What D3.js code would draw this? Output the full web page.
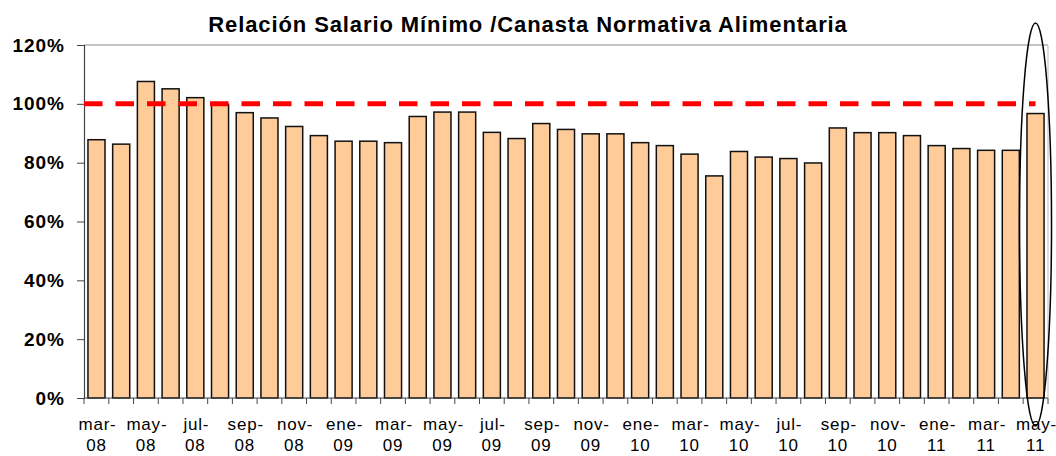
<!DOCTYPE html>
<html>
<head>
<meta charset="utf-8">
<script src="https://cdn.jsdelivr.net/npm/d3@7"></script>
<style>
  body { margin: 0; background: #fff; }
  text { font-family: Arial, "Liberation Sans", sans-serif; }
</style>
</head>
<body>
<div id="chart"></div>
<script>
// meses mar-08 .. may-11
var monthNames = ["mar","abr","may","jun","jul","ago","sep","oct","nov","dic",
                  "ene","feb","mar","abr","may","jun","jul","ago","sep","oct","nov","dic",
                  "ene","feb","mar","abr","may","jun","jul","ago","sep","oct","nov","dic",
                  "ene","feb","mar","abr","may"];
var years = ["08","08","08","08","08","08","08","08","08","08",
             "09","09","09","09","09","09","09","09","09","09","09","09",
             "10","10","10","10","10","10","10","10","10","10","10","10",
             "11","11","11","11","11"];
var ratio = [87.8, 86.3, 107.6, 105.1, 102.1, 99.8, 97.0, 95.2, 92.3, 89.2,
             87.3, 87.3, 86.8, 95.7, 97.2, 97.2, 90.3, 88.2, 93.3, 91.3, 89.8, 89.8,
             86.8, 85.8, 82.9, 75.5, 83.8, 81.9, 81.4, 79.9, 91.8, 90.2, 90.2, 89.2,
             85.8, 84.8, 84.2, 84.2, 96.7];
var yTicks = [0, 20, 40, 60, 80, 100, 120];
var refLine = 100;
var title = "Relación Salario Mínimo /Canasta Normativa Alimentaria";

var W = 1056, H = 456;
var margin = {top: 45, left: 84, right: 8, bottom: 58};
var width = W - margin.left - margin.right,
    height = H - margin.top - margin.bottom;

var cats = monthNames.map(function(m, i){ return i; });

var svg = d3.select("#chart").append("svg")
    .attr("width", W).attr("height", H);

svg.append("text")
    .attr("x", 528).attr("y", 32)
    .attr("text-anchor", "middle")
    .attr("font-size", 22).attr("font-weight", "bold")
    .attr("letter-spacing", 0.9)
    .text(title);

var g = svg.append("g").attr("transform", "translate(" + margin.left + "," + margin.top + ")");

var x = d3.scaleBand().domain(cats).range([0, width]).paddingInner(0.31).paddingOuter(0.16);
var y = d3.scaleLinear().domain([0, 120]).range([height, 0]);

// frame top / right
g.append("line").attr("x1", 0).attr("x2", width).attr("y1", 0).attr("y2", 0)
    .attr("stroke", "#888").attr("stroke-width", 1);
g.append("line").attr("x1", width).attr("x2", width).attr("y1", 0).attr("y2", height)
    .attr("stroke", "#bbb").attr("stroke-width", 1);

// bars
g.selectAll(".bar").data(ratio).enter().append("rect")
    .attr("class", "bar")
    .attr("x", function(d, i){ return x(i); })
    .attr("width", x.bandwidth())
    .attr("y", function(d){ return y(d); })
    .attr("height", function(d){ return height - y(d); })
    .attr("fill", "#FFCC99")
    .attr("stroke", "#111")
    .attr("stroke-width", 1.5);

// y axis
var yAxis = g.append("g").call(d3.axisLeft(y).tickValues(yTicks).tickSize(7).tickPadding(12)
    .tickFormat(function(d){ return d + "%"; }));
yAxis.select(".domain").attr("stroke", "#444").attr("stroke-width", 1.2);
yAxis.selectAll(".tick line").attr("stroke", "#444");
yAxis.selectAll("text").attr("font-size", 19).attr("font-weight", "bold")
    .attr("letter-spacing", 1)
    .attr("font-family", "Arial, 'Liberation Sans', sans-serif").attr("fill", "#000");

// x axis line and ticks at band boundaries
g.append("line").attr("x1", 0).attr("x2", width).attr("y1", height).attr("y2", height)
    .attr("stroke", "#444").attr("stroke-width", 1.2);
var step = x.step();
var bounds = d3.range(cats.length + 1);
function boundX(d){
    if (d === 0) return 0;
    if (d === cats.length) return width;
    return x(d) - step * x.paddingInner() / 2;
}
g.selectAll(".xtick").data(bounds).enter().append("line")
    .attr("x1", boundX).attr("x2", boundX)
    .attr("y1", height).attr("y2", height + 6)
    .attr("stroke", "#444");

// x labels every second month
var lab = g.selectAll(".xlab").data(cats.filter(function(d){ return d % 2 === 0; })).enter()
    .append("text")
    .attr("text-anchor", "middle")
    .attr("font-size", 17)
    .attr("letter-spacing", 0.8)
    .attr("fill", "#000");
lab.append("tspan")
    .attr("x", function(d){ return x(d) + x.bandwidth() / 2 + 1; })
    .attr("y", height + 32)
    .text(function(d){ return monthNames[d] + "-"; });
lab.append("tspan")
    .attr("x", function(d){ return x(d) + x.bandwidth() / 2; })
    .attr("y", height + 53)
    .text(function(d){ return years[d]; });

// red dashed reference line at 100%
g.append("line")
    .attr("x1", 0).attr("x2", x(cats.length - 1) + x.bandwidth() / 2)
    .attr("y1", y(refLine)).attr("y2", y(refLine))
    .attr("stroke", "#FF0000").attr("stroke-width", 5)
    .attr("stroke-dasharray", "18.5,13");

// ellipse around last bar
var last = cats.length - 1;
g.append("ellipse")
    .attr("cx", x(last) + x.bandwidth() / 2)
    .attr("cy", (y(120) - 22 + height + 28) / 2)
    .attr("rx", 16)
    .attr("ry", (height + 28 - (y(120) - 22)) / 2)
    .attr("fill", "none")
    .attr("stroke", "#000")
    .attr("stroke-width", 1.5);
</script>
</body>
</html>
